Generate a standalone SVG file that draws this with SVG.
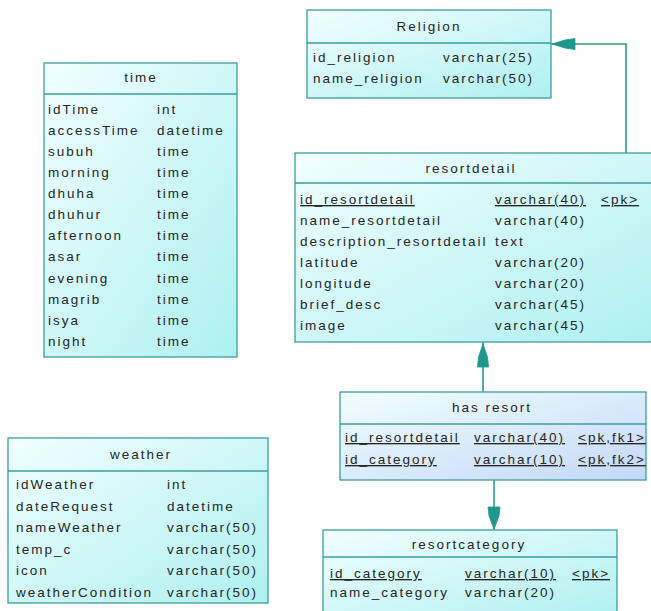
<svg xmlns="http://www.w3.org/2000/svg" width="651" height="611" viewBox="0 0 651 611">
<defs>
<linearGradient id="g" x1="0" y1="0" x2="1" y2="1">
<stop offset="0" stop-color="#f2ffff"/>
<stop offset="1" stop-color="#aef0f0"/>
</linearGradient>
<linearGradient id="gb" x1="0" y1="0" x2="1" y2="1">
<stop offset="0" stop-color="#f0ffff"/>
<stop offset="1" stop-color="#c4d8f6"/>
</linearGradient>
<style>
.box{stroke:#3e9e9c;stroke-width:1.3;fill:url(#g)}
.boxb{stroke:#3e9e9c;stroke-width:1.3;fill:url(#gb)}
.sep{stroke:#3e9e9c;stroke-width:1.3}
text{font-family:"Liberation Sans",Arial,sans-serif;font-size:13.5px;letter-spacing:2px;fill:#262626}
.h{text-anchor:middle}
.u{text-decoration:underline}
.c{stroke:#2a9a94;stroke-width:1.6;fill:none}
.a{fill:#1f978c;stroke:#1f978c;stroke-width:0.8}
</style>
</defs>
<rect width="651" height="611" fill="#ffffff"/>

<g id="connectors">
<path class="c" d="M551 44 H626 V153"/>
<polygon class="a" points="552,44 565,40 575,38.5 575,49.5 565,48"/>
<path class="c" d="M483 342 V392"/>
<polygon class="a" points="483,344 487.5,357 488.5,367 477.5,367 478.5,357"/>
<path class="c" d="M494 480 V530"/>
<polygon class="a" points="494,529 489,516 488,507 500,507 499,516"/>
</g>

<g id="religion">
<rect class="box" x="307" y="10" width="244" height="88"/>
<line class="sep" x1="307" y1="43" x2="551" y2="43"/>
<text class="h" x="429" y="31">Religion</text>
<text x="313" y="62">id_religion</text><text x="443" y="62">varchar(25)</text>
<text x="313" y="83">name_religion</text><text x="443" y="83">varchar(50)</text>
</g>

<g id="time">
<rect class="box" x="44" y="63" width="193" height="294"/>
<line class="sep" x1="44" y1="94" x2="237" y2="94"/>
<text class="h" x="141" y="82">time</text>
<text x="48" y="114">idTime</text><text x="157" y="114">int</text>
<text x="48" y="135">accessTime</text><text x="157" y="135">datetime</text>
<text x="48" y="156">subuh</text><text x="157" y="156">time</text>
<text x="48" y="177">morning</text><text x="157" y="177">time</text>
<text x="48" y="198">dhuha</text><text x="157" y="198">time</text>
<text x="48" y="219">dhuhur</text><text x="157" y="219">time</text>
<text x="48" y="240">afternoon</text><text x="157" y="240">time</text>
<text x="48" y="261">asar</text><text x="157" y="261">time</text>
<text x="48" y="283">evening</text><text x="157" y="283">time</text>
<text x="48" y="304">magrib</text><text x="157" y="304">time</text>
<text x="48" y="325">isya</text><text x="157" y="325">time</text>
<text x="48" y="346">night</text><text x="157" y="346">time</text>
</g>

<g id="resortdetail">
<rect class="box" x="295" y="153" width="360" height="189"/>
<line class="sep" x1="295" y1="183" x2="655" y2="183"/>
<text class="h" x="471" y="173">resortdetail</text>
<text class="u" x="300" y="204">id_resortdetail</text><text class="u" x="495" y="204">varchar(40)</text><text class="u" x="601" y="204">&lt;pk&gt;</text>
<text x="300" y="225">name_resortdetail</text><text x="495" y="225">varchar(40)</text>
<text x="300" y="246">description_resortdetail</text><text x="495" y="246">text</text>
<text x="300" y="267">latitude</text><text x="495" y="267">varchar(20)</text>
<text x="300" y="288">longitude</text><text x="495" y="288">varchar(20)</text>
<text x="300" y="309">brief_desc</text><text x="495" y="309">varchar(45)</text>
<text x="300" y="330">image</text><text x="495" y="330">varchar(45)</text>
</g>

<g id="hasresort">
<rect class="boxb" x="340" y="392" width="306" height="88"/>
<line class="sep" x1="340" y1="424" x2="646" y2="424"/>
<text class="h" x="492" y="412">has resort</text>
<text class="u" x="345" y="442">id_resortdetail</text><text class="u" x="474" y="442">varchar(40)</text><text class="u" x="578" y="442">&lt;pk,fk1&gt;</text>
<text class="u" x="345" y="464">id_category</text><text class="u" x="474" y="464">varchar(10)</text><text class="u" x="578" y="464">&lt;pk,fk2&gt;</text>
</g>

<g id="weather">
<rect class="box" x="8" y="438" width="260" height="165"/>
<line class="sep" x1="8" y1="471" x2="268" y2="471"/>
<text class="h" x="141" y="459">weather</text>
<text x="16" y="489">idWeather</text><text x="167" y="489">int</text>
<text x="16" y="511">dateRequest</text><text x="167" y="511">datetime</text>
<text x="16" y="532">nameWeather</text><text x="167" y="532">varchar(50)</text>
<text x="16" y="554">temp_c</text><text x="167" y="554">varchar(50)</text>
<text x="16" y="575">icon</text><text x="167" y="575">varchar(50)</text>
<text x="16" y="597">weatherCondition</text><text x="167" y="597">varchar(50)</text>
</g>

<g id="resortcategory">
<rect class="box" x="323" y="530" width="294" height="90"/>
<line class="sep" x1="323" y1="557" x2="617" y2="557"/>
<text class="h" x="469" y="549">resortcategory</text>
<text class="u" x="330" y="578">id_category</text><text class="u" x="465" y="578">varchar(10)</text><text class="u" x="572" y="578">&lt;pk&gt;</text>
<text x="330" y="597">name_category</text><text x="465" y="597">varchar(20)</text>
</g>
</svg>
